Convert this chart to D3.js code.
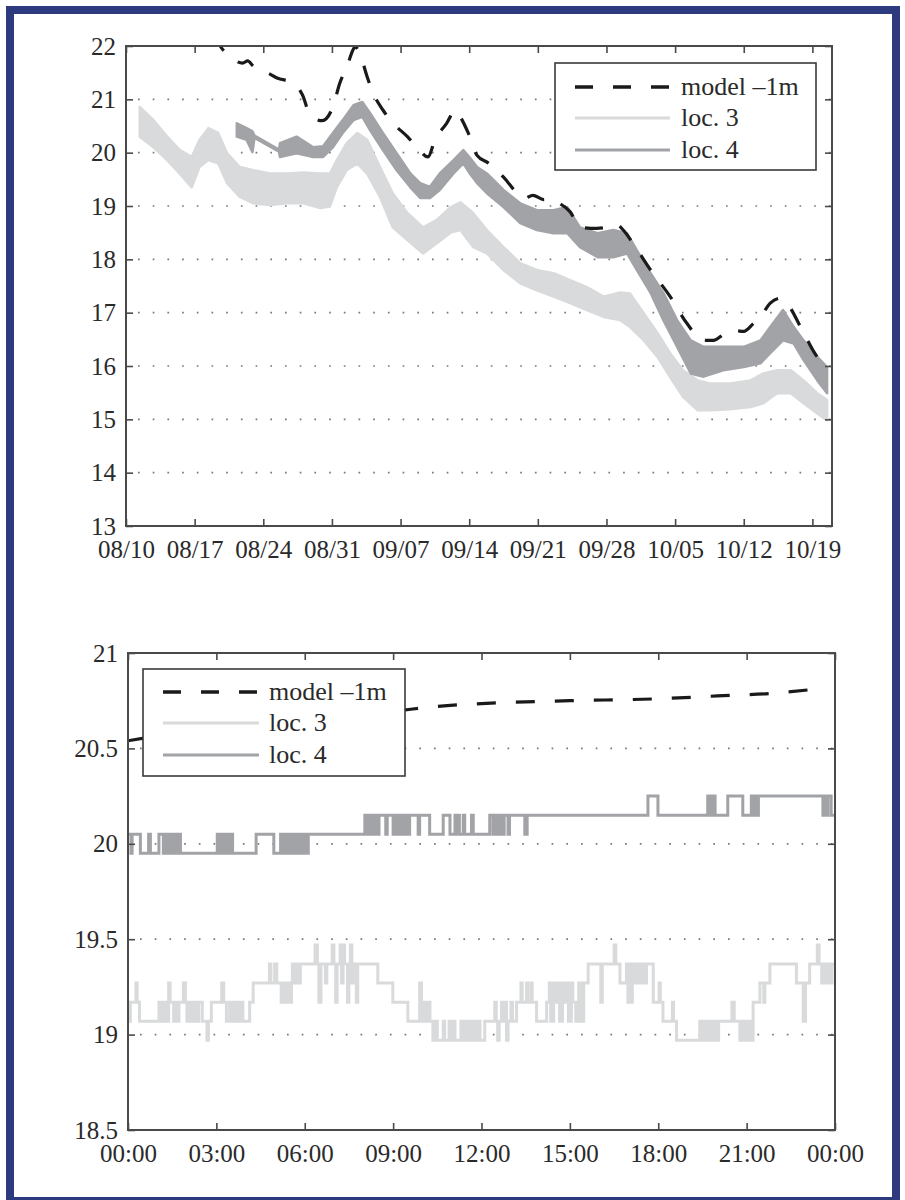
<!DOCTYPE html>
<html><head><meta charset="utf-8">
<script src="https://cdn.jsdelivr.net/npm/d3@7"></script>
<style>
body{margin:0;background:#fff}
svg text{font-family:"Liberation Serif","Times New Roman",serif !important;fill:#2a2a2a}
</style>
</head><body>
<svg id="c" width="905" height="1200"></svg>
<script>
// ---------- TOP PANEL DATA (x = days since 08/10) ----------
const topTickDays = [0,7,14,21,28,35,42,49,56,63,70];
const topTickLabels = ["08/10","08/17","08/24","08/31","09/07","09/14","09/21","09/28","10/05","10/12","10/19"];
const topYTicks = [13,14,15,16,17,18,19,20,21,22];

const modelTopDays = [9.0,9.6,10.6,11.9,12.4,13.0,14.4,15.4,17.0,18.0,18.8,20.0,21.1,21.8,22.5,23.4,23.9,24.6,25.2,26.2,27.2,28.7,29.7,30.8,31.5,32.7,33.6,34.1,34.9,35.8,37.0,38.5,40.0,40.6,41.5,42.6,43.3,44.2,45.3,46.3,48.0,49.4,50.0,50.7,51.7,53.5,55.5,57.2,58.9,59.9,61.0,61.9,63.0,64.0,64.7,65.7,66.7,67.4,68.8,70.5,71.6];
const modelTopVals = [22.2,22.0,21.8,21.68,21.72,21.62,21.5,21.4,21.32,21.08,20.7,20.6,20.86,21.3,21.6,21.98,21.83,21.42,21.12,20.8,20.56,20.3,20.1,19.92,20.24,20.55,20.8,20.67,20.37,19.95,19.8,19.54,19.22,19.14,19.2,19.12,19.14,19.05,18.89,18.6,18.58,18.62,18.66,18.55,18.3,17.8,17.3,16.8,16.48,16.48,16.6,16.67,16.65,16.8,16.92,17.18,17.27,17.18,16.73,16.17,15.98];

const loc3TopDays = [1.4,2.8,4.2,5.5,6.7,7.5,8.4,9.4,10.3,11.6,13.0,14.7,16.4,18.1,19.8,20.8,21.5,22.5,23.6,24.6,25.9,27.2,28.7,30.3,31.7,33.1,34.1,35.4,36.8,38.5,40.2,41.9,43.6,45.3,47.0,48.7,50.4,51.4,52.8,54.2,55.5,56.8,58.3,59.6,61.6,63.7,65.0,66.4,67.8,69.1,70.5,71.5];
const loc3TopHigh = [20.86,20.61,20.3,20.05,19.92,20.24,20.46,20.37,19.99,19.73,19.67,19.61,19.61,19.63,19.61,19.61,19.86,20.18,20.37,20.24,19.73,19.24,18.87,18.6,18.74,18.98,19.07,18.87,18.55,18.23,17.93,17.8,17.74,17.61,17.48,17.3,17.38,17.36,16.99,16.62,16.24,15.92,15.73,15.67,15.67,15.73,15.86,15.92,15.92,15.73,15.49,15.36];
const loc3TopLow  = [20.3,20.1,19.86,19.6,19.35,19.73,19.86,19.8,19.43,19.17,19.05,19.02,19.05,19.05,18.96,18.99,19.35,19.67,19.8,19.6,19.17,18.6,18.36,18.11,18.3,18.5,18.55,18.23,18.11,17.8,17.55,17.42,17.3,17.18,17.05,16.92,16.86,16.73,16.48,16.17,15.79,15.42,15.17,15.17,15.19,15.23,15.3,15.49,15.49,15.3,15.11,14.98];

const loc4TopDays = [11.3,12.3,12.9,13.1,15.6,15.7,17.4,19.1,20.1,21.1,22.1,23.2,24.1,24.9,26.2,27.6,29.0,30.0,31.0,32.0,33.4,34.4,35.1,35.8,36.8,38.5,40.2,41.9,43.6,45.0,46.3,48.1,49.7,51.1,52.1,53.5,54.8,56.2,57.6,58.9,60.9,63.0,64.7,65.7,67.0,68.1,69.1,70.5,71.5];
const loc4TopHigh = [20.55,20.46,20.4,20.32,20.06,20.18,20.3,20.1,20.12,20.37,20.61,20.89,20.95,20.74,20.37,19.99,19.61,19.43,19.36,19.61,19.86,20.05,19.9,19.73,19.61,19.3,19.05,18.92,18.92,18.98,18.6,18.49,18.55,18.49,18.17,17.74,17.37,16.86,16.48,16.36,16.36,16.36,16.48,16.73,17.05,16.73,16.48,16.17,15.98];
const loc4TopLow  = [20.3,20.24,20.01,20.28,20.02,19.92,19.99,19.92,19.92,20.1,20.37,20.61,20.67,20.42,20.05,19.67,19.35,19.15,19.15,19.3,19.61,19.8,19.6,19.43,19.24,18.98,18.68,18.55,18.49,18.49,18.23,18.04,18.04,18.11,17.8,17.37,16.86,16.36,15.86,15.8,15.92,15.98,16.05,16.24,16.48,16.42,16.11,15.73,15.49];

// ---------- BOTTOM PANEL DATA (x = hours) ----------
const botTickHours = [0,3,6,9,12,15,18,21,24];
const botTickLabels = ["00:00","03:00","06:00","09:00","12:00","15:00","18:00","21:00","00:00"];
const botYTicks = [18.5,19,19.5,20,20.5,21];
const botYLabels = ["18.5","19","19.5","20","20.5","21"];

const modelBotHours = [0,2,4,6,9,10.5,12,15,18,20,22,23.3];
const modelBotVals  = [20.54,20.59,20.63,20.66,20.695,20.72,20.735,20.75,20.76,20.775,20.79,20.81];

const loc3Bot = [[0,19.17],[0.04,19.07],[0.08,19.17],[0.27,19.27],[0.31,19.17],[0.39,19.07],[1.05,19.17],[1.1,19.07],[1.2,19.17],[1.3,19.07],[1.38,19.27],[1.43,19.17],[1.55,19.07],[1.6,19.17],[1.68,19.07],[1.73,19.17],[1.88,19.27],[1.95,19.17],[2.0,19.07],[2.05,19.17],[2.12,19.07],[2.17,19.17],[2.25,19.07],[2.3,19.17],[2.35,19.07],[2.4,19.17],[2.52,19.07],[2.68,18.97],[2.73,19.07],[2.83,19.17],[3.18,19.27],[3.25,19.17],[3.34,19.07],[3.45,19.17],[3.5,19.07],[3.58,19.17],[3.62,19.07],[3.7,19.17],[3.75,19.07],[3.85,19.17],[3.9,19.07],[4.13,19.17],[4.25,19.27],[4.8,19.37],[4.85,19.27],[4.98,19.37],[5.05,19.27],[5.2,19.17],[5.25,19.27],[5.35,19.17],[5.4,19.27],[5.5,19.17],[5.55,19.27],[5.58,19.37],[5.62,19.27],[5.71,19.37],[5.8,19.27],[5.85,19.37],[6.35,19.47],[6.43,19.37],[6.48,19.17],[6.55,19.37],[6.7,19.27],[6.75,19.37],[6.93,19.47],[6.99,19.37],[7.05,19.17],[7.1,19.37],[7.2,19.47],[7.25,19.27],[7.3,19.47],[7.35,19.37],[7.45,19.17],[7.5,19.37],[7.55,19.47],[7.6,19.27],[7.7,19.37],[7.75,19.17],[7.8,19.37],[8.48,19.27],[8.99,19.17],[9.5,19.07],[9.9,19.27],[9.96,19.07],[10.05,19.17],[10.1,19.07],[10.2,19.17],[10.25,19.07],[10.35,18.97],[10.45,19.07],[10.5,18.97],[10.7,19.07],[10.75,18.97],[10.9,19.07],[10.95,18.97],[11.05,19.07],[11.1,18.97],[11.3,19.07],[11.35,18.97],[11.45,19.07],[11.5,18.97],[11.6,19.07],[11.65,18.97],[11.75,19.07],[11.8,18.97],[11.9,19.07],[11.95,18.97],[12.11,19.07],[12.45,19.17],[12.5,19.07],[12.55,18.97],[12.6,19.07],[12.68,19.17],[12.72,19.07],[12.8,19.17],[12.85,18.97],[12.9,19.07],[13.0,19.17],[13.05,19.07],[13.19,19.17],[13.34,19.27],[13.38,19.17],[13.53,19.27],[13.57,19.17],[13.68,19.27],[13.72,19.17],[13.87,19.07],[14.21,19.17],[14.3,19.27],[14.35,19.07],[14.45,19.27],[14.5,19.17],[14.6,19.27],[14.65,19.07],[14.75,19.27],[14.8,19.17],[14.9,19.27],[14.95,19.07],[15.05,19.27],[15.1,19.17],[15.2,19.07],[15.3,19.27],[15.4,19.07],[15.47,19.27],[15.62,19.37],[16.05,19.17],[16.1,19.37],[16.5,19.47],[16.56,19.37],[16.7,19.27],[16.92,19.37],[16.97,19.17],[17.02,19.37],[17.08,19.17],[17.12,19.37],[17.2,19.27],[17.3,19.37],[17.35,19.27],[17.45,19.37],[17.5,19.27],[17.6,19.37],[17.83,19.17],[18.03,19.27],[18.07,19.17],[18.16,19.07],[18.48,19.17],[18.52,19.07],[18.62,18.97],[19.41,19.07],[19.5,18.97],[19.55,19.07],[19.65,18.97],[19.75,19.07],[19.85,18.97],[19.9,19.07],[20.0,18.97],[20.05,19.07],[20.5,19.17],[20.58,19.07],[20.77,18.97],[20.82,19.07],[20.87,18.97],[20.92,19.07],[20.97,18.97],[21.02,19.07],[21.07,18.97],[21.12,19.07],[21.17,18.97],[21.22,19.17],[21.45,19.27],[21.58,19.17],[21.62,19.27],[21.79,19.37],[22.69,19.27],[22.92,19.07],[23.0,19.27],[23.14,19.37],[23.4,19.47],[23.46,19.37],[23.55,19.27],[23.6,19.37],[23.7,19.27],[23.75,19.37],[23.85,19.27],[23.9,19.37],[24.0,19.37]];

const loc4Bot = [[0,20.05],[0.1,19.95],[0.14,20.05],[0.42,19.95],[0.7,20.05],[0.76,19.95],[1.05,20.05],[1.2,19.95],[1.3,20.05],[1.35,19.95],[1.45,20.05],[1.5,19.95],[1.55,20.05],[1.62,19.95],[1.68,20.05],[1.78,19.95],[3.03,20.05],[3.1,19.95],[3.15,20.05],[3.2,19.95],[3.3,20.05],[3.38,19.95],[3.45,20.05],[3.55,19.95],[4.35,20.05],[4.95,19.95],[5.18,20.05],[5.25,19.95],[5.3,20.05],[5.4,19.95],[5.45,20.05],[5.52,19.95],[5.58,20.05],[5.65,19.95],[5.72,20.05],[5.8,19.95],[5.86,20.05],[5.93,19.95],[6.0,20.05],[6.08,19.95],[6.12,20.05],[8.04,20.15],[8.1,20.05],[8.15,20.15],[8.22,20.05],[8.27,20.15],[8.35,20.05],[8.4,20.15],[8.47,20.05],[8.52,20.15],[8.75,20.05],[8.8,20.15],[9.0,20.05],[9.06,20.15],[9.12,20.05],[9.18,20.15],[9.25,20.05],[9.3,20.15],[9.4,20.05],[9.45,20.15],[9.5,20.05],[9.56,20.15],[9.85,20.05],[9.9,20.15],[10.24,20.05],[10.7,20.15],[10.93,20.05],[11.1,20.15],[11.15,20.05],[11.2,20.15],[11.25,20.05],[11.38,20.15],[11.43,20.05],[11.66,20.15],[11.72,20.05],[12.28,20.15],[12.39,20.05],[12.43,20.15],[12.51,20.05],[12.55,20.15],[12.62,20.05],[12.66,20.15],[12.73,20.05],[12.77,20.15],[12.9,20.05],[12.95,20.15],[13.47,20.05],[13.55,20.15],[17.65,20.25],[17.99,20.15],[19.68,20.25],[19.73,20.15],[19.78,20.25],[19.83,20.15],[19.88,20.25],[19.93,20.15],[20.36,20.25],[20.87,20.15],[21.16,20.25],[21.22,20.15],[21.3,20.25],[21.35,20.15],[21.4,20.25],[23.59,20.15],[23.65,20.25],[23.7,20.15],[23.76,20.25],[23.87,20.15],[24,20.15]];

const seriesNames = ["model \u20131m","loc. 3","loc. 4"];
const seriesColors = ["#1a1a1a","#d9dadc","#a2a3a6"];

// ---------- DRAW ----------
const FONT = '"Liberation Serif","Times New Roman",serif';
const svg = d3.select("#c");
const axisColor = "#4a4a4a";

svg.append("rect").attr("x",10).attr("y",10).attr("width",886).attr("height",1191)
  .attr("fill","#fff").attr("stroke","#2e3a7e").attr("stroke-width",8);

function panel(opts){
  const {x, y, xTicks, xLabels, yTicks, yLabels, id} = opts;
  const [x0,x1] = x.range(), [y0,y1] = y.range();
  const g = svg.append("g");
  g.append("clipPath").attr("id",id).append("rect")
    .attr("x",x0).attr("y",y1).attr("width",x1-x0).attr("height",y0-y1);
  g.append("g").selectAll("line").data(yTicks.filter(v=>v>y.domain()[0] && v<y.domain()[1])).join("line")
    .attr("x1",x0+12).attr("x2",x1).attr("y1",d=>y(d)).attr("y2",d=>y(d))
    .attr("stroke","#7a7a7a").attr("stroke-width",1.7).attr("stroke-dasharray","1.7,13");
  const plot = g.append("g").attr("clip-path",`url(#${id})`);
  const axes = g.append("g");
  function styleAxis(sel){
    sel.attr("font-family",FONT).style("font-family",FONT);
    sel.select(".domain").remove();
    sel.selectAll(".tick line").attr("stroke",axisColor).attr("stroke-width",1.6);
    sel.selectAll("text").attr("font-size",25).attr("fill","#2a2a2a").style("font-family",FONT);
  }
  axes.append("g").attr("transform",`translate(0,${y0})`)
    .call(d3.axisBottom(x).tickValues(xTicks).tickFormat((d,i)=>xLabels[i]).tickSizeInner(-7).tickSizeOuter(0).tickPadding(14))
    .call(styleAxis);
  axes.append("g").attr("transform",`translate(0,${y1})`)
    .call(d3.axisTop(x).tickValues(xTicks).tickFormat("").tickSizeInner(-7).tickSizeOuter(0))
    .call(styleAxis);
  axes.append("g").attr("transform",`translate(${x0},0)`)
    .call(d3.axisLeft(y).tickValues(yTicks).tickFormat((d,i)=>yLabels[i]).tickSizeInner(-7).tickSizeOuter(0).tickPadding(10))
    .call(styleAxis);
  axes.append("g").attr("transform",`translate(${x1},0)`)
    .call(d3.axisRight(y).tickValues(yTicks).tickFormat("").tickSizeInner(-7).tickSizeOuter(0))
    .call(styleAxis);
  axes.append("rect").attr("x",x0).attr("y",y1).attr("width",x1-x0).attr("height",y0-y1)
    .attr("fill","none").attr("stroke",axisColor).attr("stroke-width",2);
  return {g, plot, axes};
}

function legend(g, lx, ly, w, h, sx0, sx1, tx, rows){
  const lg = g.append("g");
  lg.append("rect").attr("x",lx).attr("y",ly).attr("width",w).attr("height",h)
    .attr("fill","#fff").attr("stroke","#3a3a3a").attr("stroke-width",1.6);
  seriesNames.forEach((name,i)=>{
    const ry = rows[i];
    const ln = lg.append("line").attr("x1",sx0).attr("x2",sx1).attr("y1",ry).attr("y2",ry)
      .attr("stroke",seriesColors[i]).attr("stroke-width",i===0?3.5:3);
    if(i===0) ln.attr("stroke-dasharray","18,20");
    lg.append("text").attr("x",tx).attr("y",ry).attr("dy","0.32em")
      .attr("font-size",26).style("font-family",FONT).text(name);
  });
}

// ----- top panel -----
const xT = d3.scaleLinear().domain([0,72]).range([126,832]);
const yT = d3.scaleLinear().domain([13,22]).range([526,46]);
const P1 = panel({x:xT, y:yT, xTicks:topTickDays, xLabels:topTickLabels, yTicks:topYTicks, yLabels:topYTicks.map(String), id:"clipTop"});

const bandT = d3.area().x(d=>xT(d.t)).y0(d=>yT(d.lo)).y1(d=>yT(d.hi));
const loc3T = loc3TopDays.map((t,i)=>({t,hi:loc3TopHigh[i],lo:loc3TopLow[i]}));
const loc4T = loc4TopDays.map((t,i)=>({t,hi:loc4TopHigh[i],lo:loc4TopLow[i]}));
P1.plot.append("path").datum(loc3T).attr("d",bandT)
  .attr("fill",seriesColors[1]).attr("stroke",seriesColors[1]).attr("stroke-width",2.5).attr("stroke-linejoin","round");
P1.plot.append("path").datum(loc4T).attr("d",bandT)
  .attr("fill",seriesColors[2]).attr("stroke",seriesColors[2]).attr("stroke-width",2.5).attr("stroke-linejoin","round");
const lineT = d3.line().x((d,i)=>xT(modelTopDays[i])).y(d=>yT(d)).curve(d3.curveMonotoneX);
P1.plot.append("path").datum(modelTopVals).attr("d",lineT)
  .attr("fill","none").attr("stroke",seriesColors[0]).attr("stroke-width",3.2).attr("stroke-dasharray","18,18");
legend(P1.g, 555, 63, 261, 107, 575, 670, 681, [87,118,150]);

// ----- bottom panel -----
const xB = d3.scaleLinear().domain([0,24]).range([128,835]);
const yB = d3.scaleLinear().domain([18.5,21]).range([1130,653]);
const P2 = panel({x:xB, y:yB, xTicks:botTickHours, xLabels:botTickLabels, yTicks:botYTicks, yLabels:botYLabels, id:"clipBot"});
const lineB = d3.line().x(d=>xB(d[0])).y(d=>yB(d[1])).curve(d3.curveStepAfter);
P2.plot.append("path").datum(loc3Bot).attr("d",lineB)
  .attr("fill","none").attr("stroke",seriesColors[1]).attr("stroke-width",3);
P2.plot.append("path").datum(loc4Bot).attr("d",lineB)
  .attr("fill","none").attr("stroke",seriesColors[2]).attr("stroke-width",3);
const lineM = d3.line().x((d,i)=>xB(modelBotHours[i])).y(d=>yB(d)).curve(d3.curveMonotoneX);
P2.plot.append("path").datum(modelBotVals).attr("d",lineM)
  .attr("fill","none").attr("stroke",seriesColors[0]).attr("stroke-width",3.2).attr("stroke-dasharray","19,20");
legend(P2.g, 143, 669, 262, 107, 163, 259, 269, [692,723,755]);
</script>
</body></html>
